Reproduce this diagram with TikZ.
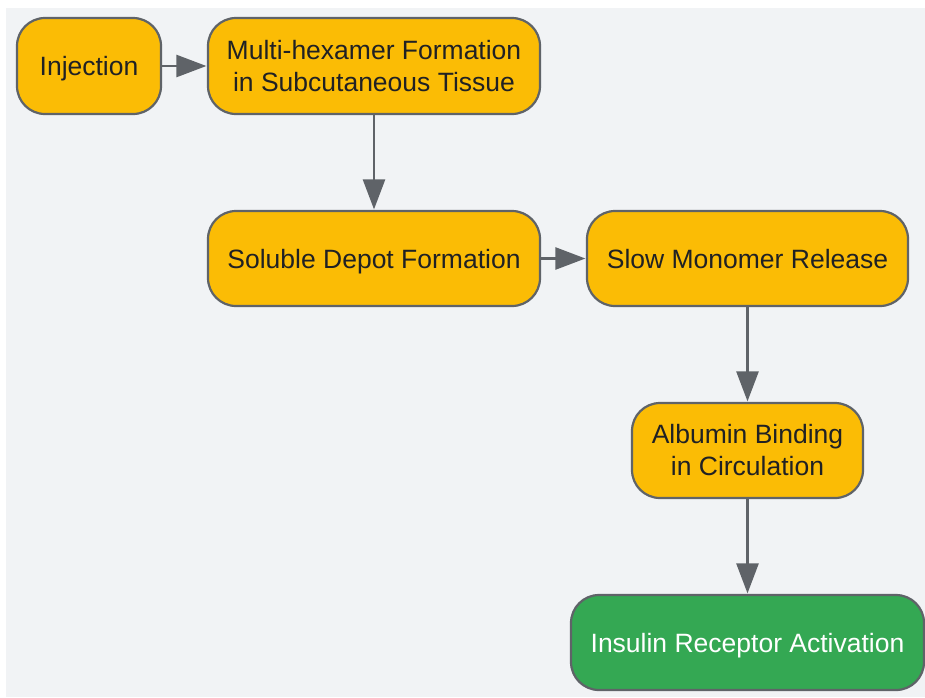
\documentclass[tikz,border=0pt]{standalone}
\usepackage{fontspec}
\setmainfont{Liberation Sans}
\usetikzlibrary{arrows.meta}
\definecolor{bgc}{HTML}{F1F3F5}
\definecolor{boxy}{HTML}{FBBC05}
\definecolor{boxg}{HTML}{34A853}
\definecolor{edge}{HTML}{5F6368}
\definecolor{txt}{HTML}{202124}
\begin{document}
\begin{tikzpicture}[x=1pt,y=-1pt,
  box/.style={draw=edge, line width=2.2pt, rounded corners=28pt, fill=boxy,
    text=txt, align=center, inner sep=0pt, font=\fontsize{26.5}{32}\selectfont},
  one/.style={text height=19pt, text depth=0pt},
  gbox/.style={box, fill=boxg, text=white},
  conn/.style={draw=edge, line width=2.5pt, -{Triangle[length=30pt,width=22pt]}, shorten >=0.5pt}]
\useasboundingbox (0,0) rectangle (925,697);
\fill[white] (0,0) rectangle (925,697);
\fill[bgc] (6,8) rectangle (925,697);
\node[box, one, minimum width=144pt, minimum height=96pt] (inj) at (89,66) {Injection};
\node[box, minimum width=332pt, minimum height=96pt] (multi) at (374,66) {Multi-hexamer Formation\\in Subcutaneous Tissue};
\node[box, one, minimum width=332pt, minimum height=95pt] (sol) at (374,258.5) {Soluble Depot Formation};
\node[box, one, minimum width=321pt, minimum height=95pt] (slow) at (747.5,258.5) {Slow Monomer Release};
\node[box, minimum width=231pt, minimum height=95pt] (alb) at (747.5,450.5) {Albumin Binding\\in Circulation};
\node[gbox, one, minimum width=353pt, minimum height=95pt] (ins) at (747.5,642.5) {Insulin Receptor Activation};
\draw[conn] (inj) -- (multi);
\draw[conn] (multi) -- (sol);
\draw[conn] (sol) -- (slow);
\draw[conn] (slow) -- (alb);
\draw[conn] (alb) -- (ins);
\end{tikzpicture}
\end{document}
